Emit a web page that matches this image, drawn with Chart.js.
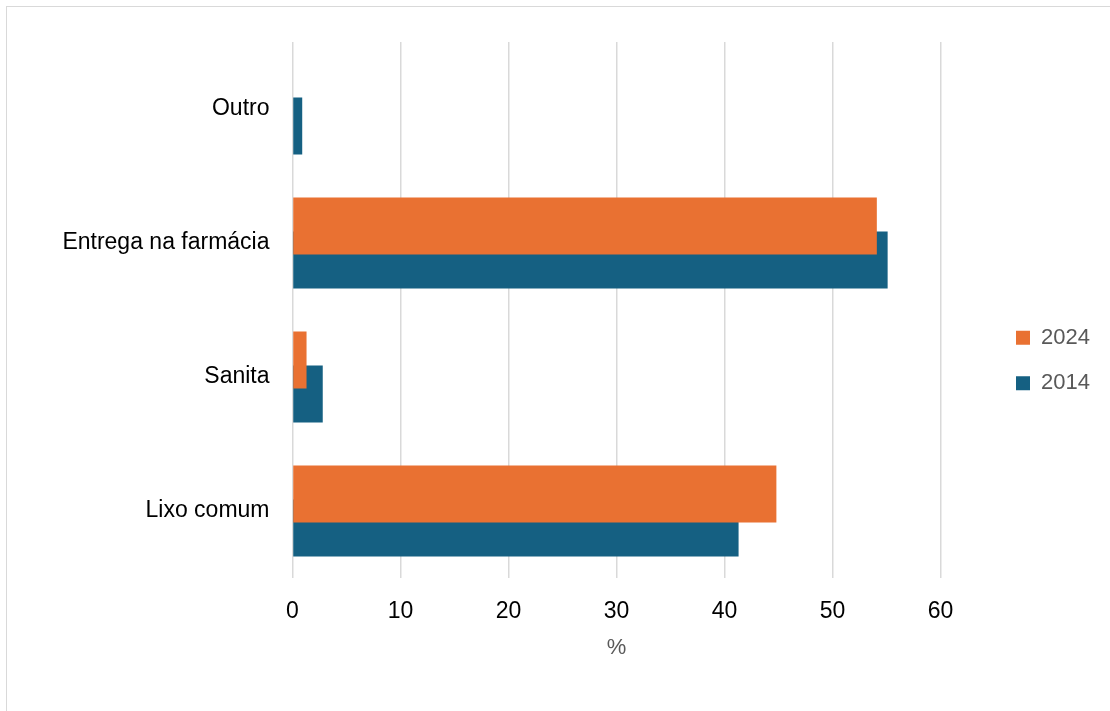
<!DOCTYPE html>
<html>
<head>
<meta charset="utf-8">
<script src="https://cdn.jsdelivr.net/npm/chart.js@4.4.1/dist/chart.umd.min.js"></script>
<style>
  html, body { margin: 0; padding: 0; background: #ffffff; overflow: hidden; }
  #wrap { position: relative; width: 1110px; height: 711px; }
  #wrap canvas { position: absolute; left: 0; top: 0; }
  #frame { position: absolute; left: 6px; top: 6px; width: 1200px; height: 800px;
           border: 1.5px solid #d9d9d9; pointer-events: none; }
</style>
</head>
<body>
<div id="wrap">
  <canvas id="chart" width="1110" height="711"></canvas>
  <div id="frame"></div>
</div>
<script>
// Destino dado aos medicamentos (%), 2024 vs 2014
const categories = ['Outro', 'Entrega na farmácia', 'Sanita', 'Lixo comum'];
const seriesNames = ['2024', '2014'];
const values2024 = [0, 54.1, 1.3, 44.8];
const values2014 = [0.9, 55.1, 2.8, 41.3];
const xTicks = [0, 10, 20, 30, 40, 50, 60];
const axisTitle = '%';

const ORANGE = '#E97132';
const BLUE = '#156082';
const FONT = "'Liberation Sans', Arial, sans-serif";

// Moves the legend block to the right-hand slot beside the plot
const legendSlot = {
  id: 'legendSlot',
  afterLayout(chart) {
    const lg = chart.legend;
    if (!lg) return;
    const pad = chart.options.plugins.legend.labels.padding;
    const dx = 1016 - (lg.left + pad);
    lg.left += dx; lg.right += dx;
    lg.top -= 16; lg.bottom -= 16;
  }
};

new Chart(document.getElementById('chart'), {
  type: 'bar',
  data: {
    labels: categories,
    datasets: [
      { label: seriesNames[0], data: values2024, backgroundColor: ORANGE, borderWidth: 0 },
      { label: seriesNames[1], data: values2014, backgroundColor: BLUE, borderWidth: 0 }
    ]
  },
  options: {
    indexAxis: 'y',
    responsive: false,
    devicePixelRatio: 1,
    animation: false,
    categoryPercentage: 0.5075,
    barPercentage: 1.68,
    layout: { padding: { top: 42, right: 62, bottom: 0, left: 0 } },
    scales: {
      x: {
        min: 0, max: 60,
        afterBuildTicks(scale) { scale.ticks = xTicks.map(v => ({ value: v })); },
        afterFit(scale) { scale.height = 133; },
        grid: { color: '#d9d9d9', lineWidth: 1.5, drawTicks: false },
        border: { display: false },
        ticks: { color: '#000000', padding: 20, font: { family: FONT, size: 23 } },
        title: {
          display: true, text: axisTitle, color: '#595959',
          font: { family: FONT, size: 22 },
          padding: { top: 0, bottom: 50 }
        }
      },
      y: {
        afterFit(scale) { scale.width = 292.5; },
        grid: { display: false, drawTicks: false },
        border: { display: false },
        ticks: { color: '#000000', padding: 23, font: { family: FONT, size: 23 } }
      }
    },
    plugins: {
      tooltip: { enabled: false },
      legend: {
        position: 'right',
        labels: {
          boxWidth: 14, boxHeight: 14, padding: 23.5,
          color: '#595959', font: { family: FONT, size: 22 }
        }
      }
    }
  },
  plugins: [legendSlot]
});
</script>
</body>
</html>
